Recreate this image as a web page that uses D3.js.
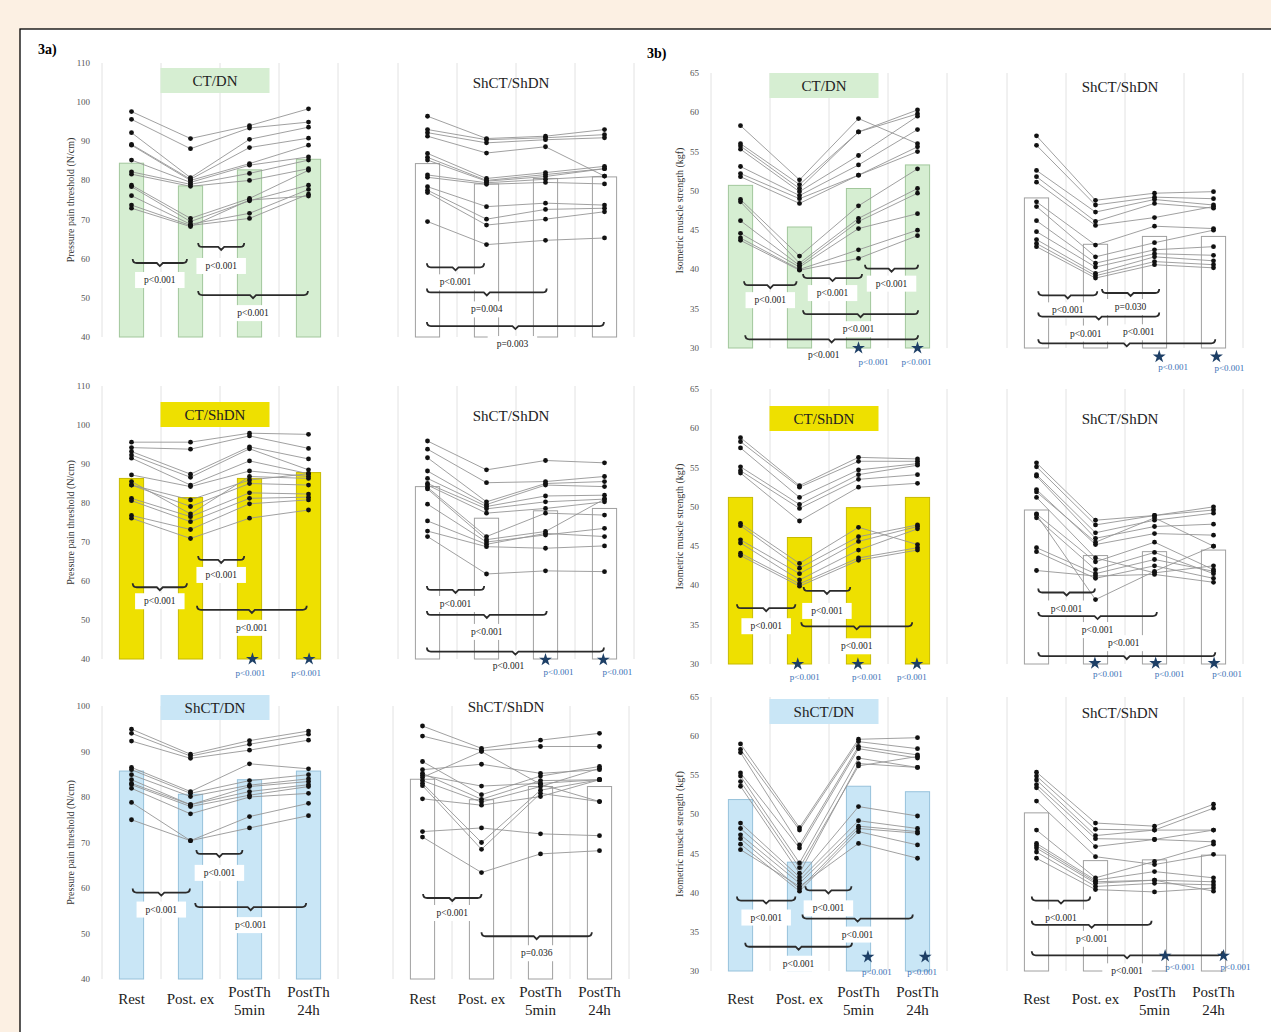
<!DOCTYPE html>
<html>
<head>
<meta charset="utf-8">
<script src="https://cdn.jsdelivr.net/npm/d3@7"></script>
<style>
  body { margin: 0; background: #fcf0e3; }
  svg { display: block; font-family: "Liberation Serif", "Times New Roman", serif; }
</style>
</head>
<body>
<svg id="chart" width="1271" height="1032"></svg>
<script>
// categories and tick labels
const categories = ["Rest", "Post. ex", "PostTh 5min", "PostTh 24h"];
const tickLabels = [["Rest"], ["Post. ex"], ["PostTh", "5min"], ["PostTh", "24h"]];
const pptTicks12 = [40, 50, 60, 70, 80, 90, 100, 110];
const pptTicks3 = [40, 50, 60, 70, 80, 90, 100];
const imsTicks = [30, 35, 40, 45, 50, 55, 60, 65];

// group means (bars), per panel: Rest, Post. ex, PostTh 5min, PostTh 24h
const barsPptCtDn = [84.4, 78.6, 82.7, 85.4];
const barsPptSham1 = [84.3, 79.1, 80.5, 80.9];
const barsImsCtDn = [50.7, 45.4, 50.3, 53.3];
const barsImsSham1 = [49.1, 43.2, 44.2, 44.2];
const barsPptCtShDn = [86.3, 81.4, 86.3, 87.8];
const barsPptSham2 = [84.2, 76.1, 78.0, 78.6];
const barsImsCtShDn = [51.2, 46.1, 49.9, 51.2];
const barsImsSham2 = [49.6, 43.8, 44.3, 44.5];
const barsPptShCtDn = [85.7, 80.6, 83.8, 85.7];
const barsPptSham3 = [83.9, 79.4, 82.3, 82.3];
const barsImsShCtDn = [51.9, 43.9, 53.6, 52.9];
const barsImsSham3 = [50.2, 44.1, 44.2, 44.8];

// individual participants, one row per subject
const pptCtDn = [
  [97.6, 90.7, 94.0, 98.3], [95.6, 88.1, 93.4, 94.9], [92.2, 80.7, 90.5, 93.6],
  [89.2, 80.3, 88.4, 90.8], [89.0, 80.0, 84.3, 89.0], [85.2, 79.5, 83.9, 86.0],
  [82.2, 79.0, 81.8, 85.2], [81.6, 78.5, 80.0, 83.0], [78.8, 70.3, 75.4, 82.6],
  [78.4, 69.5, 74.8, 78.8], [76.1, 68.8, 71.6, 77.7], [73.7, 68.5, 70.3, 76.5],
  [72.9, 68.2, 75.0, 76.0]
];
const pptSham1 = [
  [96.4, 90.7, 91.3, 93.0], [93.0, 90.4, 90.9, 91.7], [92.2, 89.6, 90.4, 90.9],
  [91.3, 87.0, 88.6, 81.1], [86.9, 80.5, 82.0, 83.6], [85.9, 80.0, 81.5, 83.0],
  [85.2, 79.8, 81.0, 83.0], [81.4, 79.4, 80.3, 81.1], [80.8, 79.0, 79.5, 79.1],
  [78.4, 73.3, 74.2, 73.7], [77.5, 70.1, 72.6, 72.9], [76.9, 68.6, 70.1, 72.0],
  [69.5, 63.6, 64.7, 65.3]
];
const imsCtDn = [
  [58.3, 51.4, 59.2, 56.0], [56.0, 50.8, 57.5, 60.3], [55.7, 50.3, 57.5, 59.8],
  [55.3, 49.9, 54.5, 59.5], [53.1, 49.4, 53.3, 57.8], [52.2, 49.0, 52.0, 55.6],
  [51.8, 48.4, 52.0, 55.0], [48.9, 41.7, 48.1, 52.8], [48.6, 40.8, 46.5, 50.3],
  [46.2, 40.5, 46.1, 49.7], [44.6, 40.3, 45.2, 47.1], [44.0, 40.0, 42.5, 45.0],
  [43.7, 39.9, 41.4, 44.3]
];
const imsSham1 = [
  [57.0, 48.8, 49.7, 49.9], [55.8, 48.2, 49.2, 49.0], [52.6, 47.3, 48.9, 48.2],
  [51.8, 46.1, 48.4, 47.8], [51.1, 45.6, 46.6, 48.0], [48.6, 43.1, 45.5, 45.2],
  [48.0, 41.6, 43.4, 45.0], [46.2, 40.8, 42.5, 42.9], [44.8, 40.3, 42.0, 41.8],
  [43.8, 39.5, 41.6, 41.1], [43.3, 39.2, 41.0, 40.6], [42.9, 38.9, 40.6, 40.2]
];
const pptCtShDn = [
  [95.6, 95.6, 97.9, 97.6], [94.2, 93.8, 97.2, 94.0], [93.2, 87.4, 94.4, 91.3],
  [92.3, 86.6, 93.9, 88.5], [91.5, 84.6, 90.8, 87.5], [87.2, 84.2, 88.2, 86.8],
  [85.5, 77.2, 86.8, 86.3], [84.6, 80.8, 85.9, 87.5], [84.6, 79.1, 85.0, 84.6],
  [81.2, 76.5, 82.6, 82.3], [80.6, 75.2, 81.2, 81.5], [76.8, 73.2, 79.8, 80.8],
  [76.1, 70.9, 76.1, 78.2]
];
const pptSham2 = [
  [95.9, 88.5, 90.9, 90.3], [93.8, 85.2, 85.5, 86.8], [91.6, 80.3, 85.0, 85.5],
  [88.2, 79.6, 84.6, 84.2], [86.3, 79.1, 81.8, 82.0], [85.0, 78.5, 80.3, 81.0],
  [84.6, 77.4, 78.6, 80.3], [84.0, 71.4, 77.4, 76.9], [83.6, 70.6, 72.7, 81.0],
  [79.7, 70.0, 71.8, 73.5], [75.4, 69.4, 72.2, 71.4], [72.8, 68.8, 68.4, 69.0],
  [71.4, 61.8, 62.6, 62.4]
];
const imsCtShDn = [
  [58.8, 52.7, 56.3, 56.1], [58.3, 52.5, 55.8, 55.8], [57.5, 51.2, 54.7, 55.5],
  [55.1, 50.3, 54.1, 55.3], [54.6, 49.8, 53.5, 54.1], [54.3, 48.2, 52.5, 53.0],
  [47.9, 42.8, 47.4, 45.2], [47.6, 42.2, 46.2, 47.7], [45.8, 41.5, 45.6, 47.5],
  [45.4, 40.7, 44.5, 47.2], [44.1, 40.2, 43.5, 44.8], [43.8, 39.9, 43.2, 44.5]
];
const imsSham2 = [
  [55.6, 48.3, 48.9, 50.0], [55.1, 47.7, 48.9, 49.6], [54.1, 46.7, 48.3, 49.2],
  [53.9, 46.0, 47.5, 47.8], [52.2, 45.2, 46.6, 46.4], [51.9, 45.5, 48.6, 45.0],
  [51.2, 43.5, 41.6, 42.5], [49.1, 43.0, 45.5, 42.0], [48.6, 42.0, 44.2, 41.5],
  [44.8, 41.5, 43.3, 41.8], [44.3, 40.9, 42.5, 40.9], [41.9, 41.2, 41.4, 40.4],
  [49.0, 38.2, 41.8, 45.0]
];
const pptShCtDn = [
  [94.9, 89.4, 92.4, 94.5], [94.0, 89.0, 91.6, 93.8], [92.3, 88.5, 90.3, 92.5],
  [86.5, 81.2, 87.3, 86.2], [86.0, 80.8, 83.6, 84.9], [84.9, 80.1, 82.6, 84.0],
  [83.8, 78.3, 82.3, 83.4], [83.0, 78.3, 81.2, 82.7], [82.7, 77.9, 80.4, 82.3],
  [81.9, 76.3, 80.0, 80.8], [78.8, 70.4, 75.7, 78.6], [75.0, 70.4, 73.2, 75.9]
];
const pptSham3 = [
  [95.6, 90.7, 92.5, 94.0], [93.4, 90.2, 91.1, 91.1], [87.8, 80.5, 84.6, 86.7],
  [86.0, 87.2, 85.2, 86.0], [85.2, 79.5, 83.6, 83.8], [84.3, 90.0, 82.8, 79.0],
  [83.6, 78.9, 82.3, 86.3], [83.0, 70.0, 81.5, 83.8], [82.5, 68.5, 80.8, 79.0],
  [79.6, 78.2, 80.1, 83.8], [72.4, 73.2, 71.9, 71.5], [71.2, 63.4, 67.5, 68.2],
  [84.8, 82.4, 83.0, 83.8]
];
const imsShCtDn = [
  [59.0, 48.3, 59.6, 59.8], [58.3, 48.0, 59.3, 58.4], [57.9, 46.1, 58.7, 57.6],
  [55.3, 45.7, 58.4, 57.2], [54.9, 43.8, 57.2, 56.0], [54.2, 43.2, 56.2, 57.4],
  [53.6, 42.5, 56.5, 56.0], [48.9, 42.0, 51.0, 49.8], [48.2, 41.6, 49.2, 48.2],
  [47.4, 41.2, 48.5, 47.8], [46.9, 40.5, 48.2, 47.6], [46.2, 40.2, 47.8, 46.1],
  [45.5, 40.8, 46.3, 44.4]
];
const imsSham3 = [
  [55.4, 48.9, 48.5, 51.3], [54.9, 48.1, 48.0, 50.8], [54.4, 47.3, 48.0, 48.0],
  [53.8, 46.9, 46.8, 46.5], [53.4, 45.9, 46.8, 48.0], [51.7, 44.6, 43.6, 44.9],
  [48.0, 41.9, 44.0, 46.2], [46.3, 41.6, 42.7, 41.9], [45.7, 41.2, 41.6, 41.4],
  [45.2, 40.8, 41.2, 41.0], [44.4, 40.4, 40.1, 40.6], [46.0, 41.4, 41.6, 40.2]
];

// pairwise comparisons: [from cat, to cat, height, label, white box, label dy, label dx]
const brPptCtDn = [[0.02, 0.94, 58.9, "p<0.001", 1, 17, 0], [1.13, 1.91, 63.0, "p<0.001", 1, 19, 0], [1.13, 2.99, 50.7, "p<0.001", 1, 18, 0]];
const brPptSham1 = [[-0.01, 0.96, 57.8, "p<0.001", 1, 15, 0], [-0.01, 2.02, 51.4, "p=0.004", 1, 17, 0], [-0.01, 2.99, 42.8, "p=0.003", 1, 18, -3]];
const brImsCtDn = [[0.06, 0.95, 38.0, "p<0.001", 1, 15, 0], [1.06, 2.06, 38.9, "p<0.001", 1, 15, 0], [2.11, 3.01, 40.1, "p<0.001", 1, 15, 0],
                   [1.06, 3.01, 34.3, "p<0.001", 1, 15, -2], [0.08, 3.01, 31.1, "p<0.001", 0, 16, -8]];
const brImsSham1 = [[0.03, 1.03, 36.7, "p<0.001", 1, 15, 0], [1.11, 2.08, 37.0, "p=0.030", 1, 14, 0], [0.03, 2.08, 34.0, "p<0.001", 1, 17, -13],
                    [0.03, 3.03, 30.6, "p<0.001", 1, -11, 12]];
const brPptCtShDn = [[0.02, 0.94, 58.4, "p<0.001", 1, 14, 0], [1.13, 1.91, 65.4, "p<0.001", 1, 15, 0], [1.11, 2.97, 52.6, "p<0.001", 1, 18, 0]];
const brPptSham2 = [[-0.01, 0.96, 57.7, "p<0.001", 1, 14, 0], [-0.01, 2.02, 51.3, "p<0.001", 1, 17, 0], [-0.01, 2.99, 41.9, "p<0.001", 0, 14, -7]];
const brImsCtShDn = [[-0.06, 0.93, 37.1, "p<0.001", 1, 18, 0], [1.07, 1.86, 39.3, "p<0.001", 1, 20, 0], [1.03, 2.91, 34.8, "p<0.001", 1, 20, 0]];
const brImsSham2 = [[0.03, 0.99, 39.1, "p<0.001", 1, 16, 0], [0.03, 2.04, 36.1, "p<0.001", 1, 14, 0], [0.03, 3.03, 31.0, "p<0.001", 1, -13, -3]];
const brPptShCtDn = [[0.02, 0.99, 59.0, "p<0.001", 1, 17, 0], [1.1, 1.88, 67.5, "p<0.001", 1, 19, 0], [1.08, 2.96, 55.8, "p<0.001", 1, 18, 0]];
const brPptSham3 = [[0.01, 1.0, 57.8, "p<0.001", 1, 15, 0], [1.0, 2.87, 49.4, "p=0.036", 1, 17, 0]];
const brImsShCtDn = [[-0.06, 0.93, 39.0, "p<0.001", 1, 17, 0], [1.1, 1.88, 40.3, "p<0.001", 1, 18, 0], [1.05, 2.92, 36.7, "p<0.001", 1, 16, 0],
                     [0.08, 1.89, 33.1, "p<0.001", 1, 17, 0]];
const brImsSham3 = [[-0.08, 0.91, 39.0, "p<0.001", 1, 17, 0], [-0.08, 1.95, 35.9, "p<0.001", 1, 14, 0], [-0.08, 3.15, 32.0, "p<0.001", 1, 16, 0]];

// between-group markers: [cat, value, label dx, label dy]
const stImsCtDn = [[2, 30, 15, 14], [3, 30, -1, 14]];
const stImsSham1 = [[2.08, 28.9, 14, 10], [3.05, 28.9, 13, 11]];
const stPptCtShDn = [[2.05, 40, -2, 14], [3.01, 40, -3, 14]];
const stPptSham2 = [[2.0, 39.8, 13, 12], [2.98, 39.8, 14, 12]];
const stImsCtShDn = [[0.97, 30, 7, 13], [1.99, 30, 9, 13], [2.99, 30, -5, 13]];
const stImsSham2 = [[0.99, 30.1, 13, 11], [2.02, 30.1, 14, 11], [3.01, 30.1, 13, 11]];
const stImsShCtDn = [[2.16, 31.8, 9, 15], [3.13, 31.8, -3, 15]];
const stImsSham3 = [[2.18, 31.95, 15, 11], [3.17, 31.95, 12, 11]];

const svg = d3.select("#chart");

// page frame
svg.append("rect").attr("x", 20).attr("y", 29).attr("width", 1270).attr("height", 1020)
  .style("fill", "#fff").style("stroke", "#000").style("stroke-width", 1.3);

svg.append("text").attr("x", 38).attr("y", 54).text("3a)")
  .style("font-size", "14px").style("font-weight", "bold");
svg.append("text").attr("x", 647).attr("y", 58).text("3b)")
  .style("font-size", "14px").style("font-weight", "bold");

const green = { fill: "#d6eed2", stroke: "#a2c79c" };
const yellow = { fill: "#eee000", stroke: "#c7ba00" };
const blue = { fill: "#c9e6f6", stroke: "#97c2db" };
const plain = { fill: "#fff", stroke: "#a0a0a0" };

const rows = [
  { ppt: [337, 63], pptDom: [40, 110], pptTicks: pptTicks12, ims: [348, 73] },
  { ppt: [659, 386], pptDom: [40, 110], pptTicks: pptTicks12, ims: [664, 389] },
  { ppt: [979, 706], pptDom: [40, 100], pptTicks: pptTicks3, ims: [971, 697] }
];

const panels = [
  { row: 0, kind: "ppt", x0: 102, data: pptCtDn, bars: barsPptCtDn, br: brPptCtDn, st: [], title: "CT/DN", col: green, ty: 80.5, axis: true },
  { row: 0, kind: "ppt", x0: 398, data: pptSham1, bars: barsPptSham1, br: brPptSham1, st: [], title: "ShCT/ShDN", col: plain, ty: 83 },
  { row: 0, kind: "ims", x0: 711, data: imsCtDn, bars: barsImsCtDn, br: brImsCtDn, st: stImsCtDn, title: "CT/DN", col: green, ty: 85.5, axis: true },
  { row: 0, kind: "ims", x0: 1007, data: imsSham1, bars: barsImsSham1, br: brImsSham1, st: stImsSham1, title: "ShCT/ShDN", col: plain, ty: 86.5 },
  { row: 1, kind: "ppt", x0: 102, data: pptCtShDn, bars: barsPptCtShDn, br: brPptCtShDn, st: stPptCtShDn, title: "CT/ShDN", col: yellow, ty: 414.5, axis: true },
  { row: 1, kind: "ppt", x0: 398, data: pptSham2, bars: barsPptSham2, br: brPptSham2, st: stPptSham2, title: "ShCT/ShDN", col: plain, ty: 416 },
  { row: 1, kind: "ims", x0: 711, data: imsCtShDn, bars: barsImsCtShDn, br: brImsCtShDn, st: stImsCtShDn, title: "CT/ShDN", col: yellow, ty: 418.5, axis: true },
  { row: 1, kind: "ims", x0: 1007, data: imsSham2, bars: barsImsSham2, br: brImsSham2, st: stImsSham2, title: "ShCT/ShDN", col: plain, ty: 419 },
  { row: 2, kind: "ppt", x0: 102, data: pptShCtDn, bars: barsPptShCtDn, br: brPptShCtDn, st: [], title: "ShCT/DN", col: blue, ty: 707.5, axis: true, xt: true },
  { row: 2, kind: "ppt", x0: 393, data: pptSham3, bars: barsPptSham3, br: brPptSham3, st: [], title: "ShCT/ShDN", col: plain, ty: 707, xt: true },
  { row: 2, kind: "ims", x0: 711, data: imsShCtDn, bars: barsImsShCtDn, br: brImsShCtDn, st: stImsShCtDn, title: "ShCT/DN", col: blue, ty: 711.5, axis: true, xt: true },
  { row: 2, kind: "ims", x0: 1007, data: imsSham3, bars: barsImsSham3, br: brImsSham3, st: stImsSham3, title: "ShCT/ShDN", col: plain, ty: 713, xt: true }
];

const step = 59;

function bracketPath(xa, xb, y) {
  let m = (xa + xb) / 2, h = 4;
  return `M${xa},${y - h} Q${xa},${y} ${xa + h},${y} L${m - 3},${y} L${m},${y + 3} L${m + 3},${y} L${xb - h},${y} Q${xb},${y} ${xb},${y - h}`;
}

panels.forEach(p => {
  let r = rows[p.row];
  let yDom = p.kind === "ppt" ? r.pptDom : [30, 65];
  let yRange = p.kind === "ppt" ? r.ppt : r.ims;
  let ticks = p.kind === "ppt" ? r.pptTicks : imsTicks;

  let x = d3.scaleBand().domain(categories).range([p.x0, p.x0 + step * 4])
    .paddingInner(0.59).paddingOuter(0.295);
  let y = d3.scaleLinear().domain(yDom).range(yRange);
  // fractional category position -> pixel (centre of band)
  let xc = d3.scaleLinear().domain([0, 3])
    .range([x(categories[0]) + x.bandwidth() / 2, x(categories[3]) + x.bandwidth() / 2]);

  let g = svg.append("g");

  // vertical grid lines at category boundaries
  g.selectAll(".grid").data(d3.range(5)).enter().append("line")
    .attr("x1", i => p.x0 + i * step).attr("x2", i => p.x0 + i * step)
    .attr("y1", y(yDom[1])).attr("y2", y(yDom[0]))
    .style("stroke", "#e2e2e2").style("stroke-width", 1);

  // bars
  g.selectAll(".bar").data(p.bars).enter().append("rect")
    .attr("x", (d, i) => x(categories[i]))
    .attr("y", d => y(d))
    .attr("width", x.bandwidth())
    .attr("height", d => y(yDom[0]) - y(d))
    .style("fill", p.col.fill).style("stroke", p.col.stroke).style("stroke-width", 1);

  // title
  if (p.col !== plain) {
    g.append("rect").attr("x", p.x0 + 118 - 5 - 54.5).attr("y", p.ty - 12.5)
      .attr("width", 109).attr("height", 25).style("fill", p.col.fill);
  }
  g.append("text").attr("x", p.x0 + 118 - 5).attr("y", p.ty + 5)
    .attr("text-anchor", "middle").text(p.title)
    .style("font-size", "15px").style("fill", "#222");

  // subject lines + points
  let line = d3.line().x((d, i) => x(categories[i]) + x.bandwidth() / 2).y(d => y(d));
  g.selectAll(".subj").data(p.data).enter().append("path")
    .attr("d", line)
    .style("fill", "none").style("stroke", "#959595").style("stroke-width", 0.9);
  p.data.forEach(s => {
    g.selectAll(null).data(s).enter().append("circle")
      .attr("cx", (d, i) => x(categories[i]) + x.bandwidth() / 2)
      .attr("cy", d => y(d)).attr("r", 2.4)
      .style("fill", "#111");
  });

  // brackets
  p.br.forEach(b => {
    let xa = xc(b[0]), xb = xc(b[1]), yy = y(b[2]);
    g.append("path").attr("d", bracketPath(xa, xb, yy))
      .style("fill", "none").style("stroke", "#2b2b2b").style("stroke-width", 1.8);
    let lx = (xa + xb) / 2 + b[6], ly = yy + b[5];
    let t = g.append("text").attr("x", lx).attr("y", ly + 3)
      .attr("text-anchor", "middle").text(b[3])
      .style("font-size", "9.5px").style("fill", "#222");
    if (b[4]) {
      let w = t.node().getComputedTextLength() + 18;
      g.insert("rect", () => t.node()).attr("x", lx - w / 2).attr("y", ly - 8)
        .attr("width", w).attr("height", 16).style("fill", "#fff");
    }
  });

  // stars
  p.st.forEach(s => {
    let sx = xc(s[0]), sy = y(s[1]);
    g.append("path").attr("d", d3.symbol(d3.symbolStar, 52)())
      .attr("transform", `translate(${sx},${sy})`)
      .style("fill", "#1d3f66");
    g.append("text").attr("x", sx + s[2]).attr("y", sy + s[3] + 3)
      .attr("text-anchor", "middle").text("p<0.001")
      .style("font-size", "9px").style("fill", "#3a70b5");
  });

  // y axis labels
  if (p.axis) {
    g.selectAll(".tick").data(ticks).enter().append("text")
      .attr("x", p.x0 - 12).attr("y", d => y(d) + 3)
      .attr("text-anchor", "end").text(d => d)
      .style("font-size", "9px").style("fill", "#555");
    let mid = (yRange[0] + yRange[1]) / 2;
    g.append("text").attr("transform", `translate(${p.x0 - 28},${mid}) rotate(-90)`)
      .attr("text-anchor", "middle")
      .text(p.kind === "ppt" ? "Pressure pain threshold (N/cm)" : "Isometric muscle strength (kgf)")
      .style("font-size", "10px").style("fill", "#333");
  }

  // x tick labels (bottom row only)
  if (p.xt) {
    tickLabels.forEach((lines, i) => {
      let t = g.append("text").attr("text-anchor", "middle")
        .style("font-size", "15px").style("fill", "#222");
      lines.forEach((l, k) => {
        t.append("tspan").attr("x", x(categories[i]) + x.bandwidth() / 2)
          .attr("y", lines.length === 1 ? 1004 : 997 + k * 18).text(l);
      });
    });
  }
});
</script>
</body>
</html>
